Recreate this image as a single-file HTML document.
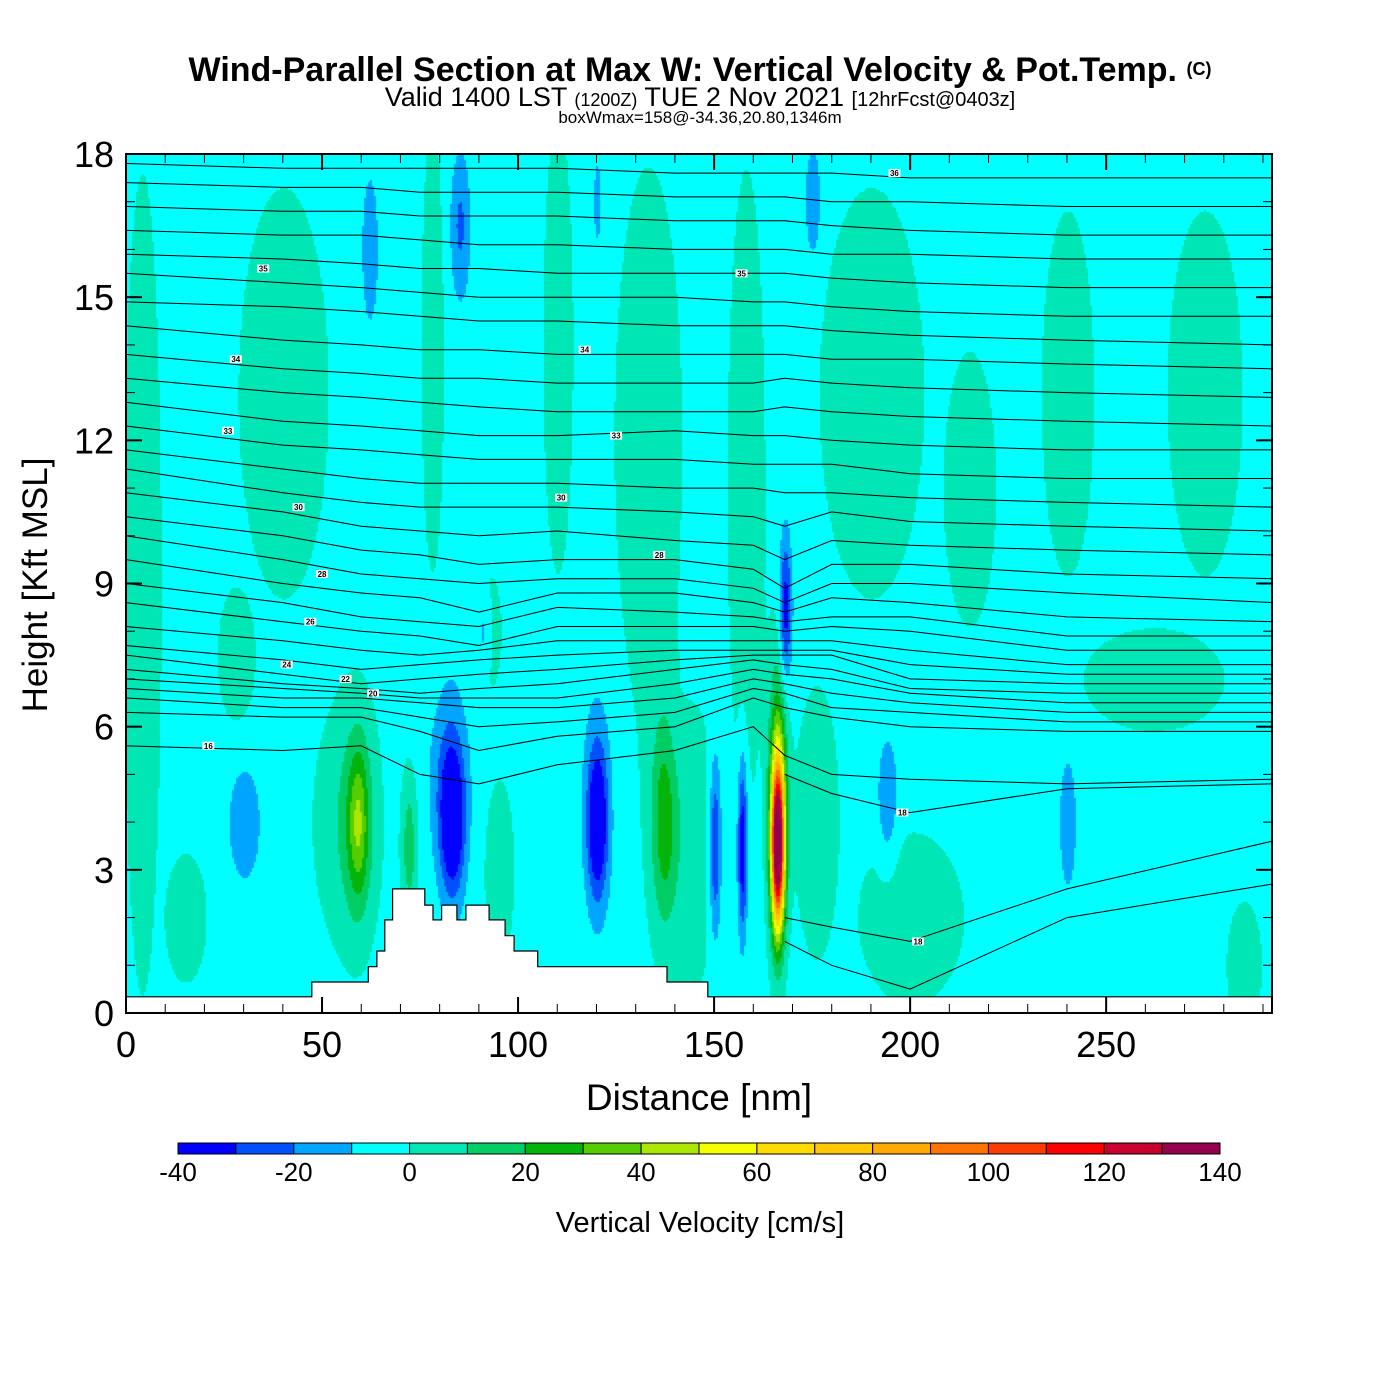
<!DOCTYPE html>
<html><head><meta charset="utf-8">
<style>
body{margin:0;background:#fff;width:1400px;height:1400px;overflow:hidden;font-family:"Liberation Sans",Arial,sans-serif}
#wrap{position:relative;width:1400px;height:1400px}
canvas{position:absolute;left:126px;top:154px}
svg{position:absolute;left:0;top:0}
</style></head>
<body>
<div id="wrap">
<canvas id="field" width="1146" height="859"></canvas>
<svg id="svg" width="1400" height="1400"></svg>
</div>
<script>
// ---- data ----
const xMax = 292.3, yMax = 18;
// broad weak-updraft regions (combined by max)
const bgX  = [4, 40, 28, 55, 78, 92, 95, 110, 133, 145, 158, 190, 215, 240, 275, 262, 176, 200, 285, 15];
const bgH  = [9, 13, 7.5, 4, 14, 8, 3, 14, 12, 3.5, 11, 13, 11, 13, 13, 7, 4, 2, 1, 2];
const bgSX = [5, 12, 5, 8, 3, 4, 4, 4, 9, 6, 5, 14, 7, 7, 10, 20, 6, 15, 5, 6];
const bgSY = [9, 4.5, 1.5, 2.5, 5, 1.5, 2, 5, 6, 3, 7, 4.5, 3, 4, 4, 1.2, 3, 2, 1.5, 1.5];
const bgV  = [10, 10, 10, 10, 10, 9, 10, 10, 10, 10, 10, 10, 10, 10, 10, 9, 10, 9, 9, 9];
// strong features (summed)
const featX  = [59, 59, 72, 83, 82, 120, 120, 137, 137, 150, 157, 166, 166, 168, 194, 240, 62, 85, 120, 175, 91, 30];
const featH  = [4, 4, 3.5, 4, 5, 4, 4.5, 4, 4, 3.5, 3.5, 3.5, 4.3, 8.5, 4.5, 4, 16, 16.5, 17, 17, 8, 4];
const featSX = [2.5, 5, 2, 3, 5, 2.5, 4, 3, 5, 1.5, 1.2, 1.6, 2.2, 1.5, 2.5, 2, 2, 2.5, 1, 2, 2, 4];
const featSY = [1.5, 2.5, 1.5, 1.5, 2, 1.5, 2.5, 2, 3, 1.8, 1.8, 1.6, 2.6, 1.5, 1.3, 1.3, 1.5, 1.5, 1, 1.2, 0.8, 1.2];
const featV  = [28, 12, 20, -40, -15, -38, -10, 22, 8, -30, -38, 125, 55, -32, -16, -16, -16, -18, -12, -16, -15, -15];
const baseV = -4;
const vLevels = [-40,-30,-20,-10,0,10,20,30,40,50,60,70,80,90,100,110,120,130,140];
const vColors = ["#0000ff","#0050ff","#00a5ff","#00ffff","#00e6b4","#00cd64","#05b40a","#55cd00","#aae600","#f5ff00","#ffdc00","#ffc800","#ffaa00","#ff7300","#ff3c00","#ff0000","#c8002d","#960050"];
const terrainX = [0,47.4,47.4,61.8,61.8,64,64,66,66,68,68,76.2,76.2,78.3,78.3,80.5,80.5,84.4,84.4,86.7,86.7,92.6,92.6,96.7,96.7,99,99,105,105,138,138,148.4,148.4,292.3];
const terrainH = [0.34,0.34,0.65,0.65,0.97,0.97,1.3,1.3,1.95,1.95,2.6,2.6,2.26,2.26,1.95,1.95,2.26,2.26,1.95,1.95,2.26,2.26,1.95,1.95,1.62,1.62,1.3,1.3,0.97,0.97,0.65,0.65,0.34,0.34];
const thetaX = [0,40,60,75,90,110,140,160,168,180,200,240,292.3];
const thetaLines = [
[17.8,17.7,17.7,17.7,17.7,17.7,17.6,17.6,17.6,17.6,17.5,17.5,17.5],
[17.4,17.3,17.3,17.2,17.2,17.2,17.1,17.1,17.1,17.0,17.0,16.9,16.9],
[16.9,16.8,16.8,16.7,16.7,16.7,16.6,16.6,16.6,16.5,16.4,16.3,16.3],
[16.4,16.3,16.3,16.2,16.1,16.1,16.0,16.0,16.0,15.9,15.9,15.8,15.8],
[15.9,15.8,15.7,15.6,15.6,15.5,15.5,15.5,15.5,15.4,15.3,15.2,15.2],
[15.5,15.3,15.2,15.1,15.0,15.0,15.0,14.9,14.9,14.8,14.7,14.6,14.6],
[14.9,14.8,14.7,14.6,14.5,14.5,14.4,14.4,14.4,14.3,14.2,14.1,14.0],
[14.4,14.1,14.0,13.9,13.9,13.8,13.8,13.8,13.8,13.7,13.7,13.6,13.5],
[13.8,13.5,13.4,13.3,13.3,13.2,13.2,13.2,13.3,13.2,13.1,13.0,12.9],
[13.3,13.0,12.9,12.8,12.7,12.6,12.6,12.6,12.7,12.6,12.5,12.4,12.3],
[12.8,12.4,12.3,12.2,12.1,12.1,12.2,12.1,12.1,12.0,11.9,11.8,11.8],
[12.3,11.9,11.8,11.7,11.6,11.6,11.6,11.5,11.5,11.5,11.3,11.2,11.2],
[11.8,11.4,11.2,11.1,11.1,11.1,11.0,11.0,10.9,10.9,10.8,10.7,10.6],
[11.4,10.9,10.7,10.6,10.6,10.6,10.5,10.4,10.2,10.5,10.3,10.2,10.1],
[10.9,10.5,10.2,10.1,10.0,10.1,9.9,9.8,9.5,9.9,9.8,9.7,9.6],
[10.4,10.0,9.7,9.6,9.4,9.5,9.5,9.3,8.9,9.4,9.4,9.2,9.1],
[10.0,9.5,9.2,9.1,9.0,9.1,9.1,8.9,8.6,9.0,9.0,8.8,8.6],
[9.5,9.0,8.8,8.7,8.4,8.8,8.8,8.6,8.4,8.7,8.6,8.3,8.2],
[9.0,8.6,8.3,8.2,8.1,8.5,8.4,8.3,8.2,8.3,8.3,7.9,7.9],
[8.6,8.2,8.0,7.9,7.7,8.1,8.1,8.1,8.0,8.1,8.0,7.6,7.6],
[8.1,7.8,7.6,7.5,7.6,7.8,7.8,7.8,7.8,7.8,7.6,7.3,7.3],
[7.7,7.4,7.2,7.3,7.4,7.5,7.6,7.6,7.6,7.6,7.3,7.1,7.1],
[7.5,7.1,6.9,7.0,7.1,7.2,7.4,7.5,7.5,7.5,7.0,6.9,6.9],
[7.2,6.9,6.8,6.7,6.8,6.9,7.2,7.4,7.3,7.2,6.8,6.7,6.7],
[7.0,6.8,6.7,6.6,6.6,6.6,6.9,7.2,7.1,7.0,6.7,6.5,6.5],
[6.8,6.6,6.6,6.5,6.4,6.4,6.6,7.0,6.9,6.7,6.5,6.3,6.3],
[6.6,6.4,6.4,6.2,6.0,6.1,6.3,6.8,6.7,6.4,6.3,6.1,6.1],
[6.3,6.2,6.2,5.9,5.5,5.8,6.0,6.6,6.4,6.2,6.0,5.9,5.9],
[5.6,5.5,5.6,5.0,4.8,5.2,5.5,6.0,5.4,5.0,4.9,4.8,4.9],
[null,null,null,null,null,null,null,null,5.0,4.6,4.2,4.7,4.8],
[null,null,null,null,null,null,null,null,2.0,1.8,1.5,2.6,3.6],
[null,null,null,null,null,null,null,null,1.5,1.0,0.5,2.0,2.7]
];
const labelText = ["36","35","35","34","34","33","33","30","30","28","28","26","24","22","20","16","18","18"];
const labelX    = [196,35,157,28,117,26,125,44,111,50,136,47,41,56,63,21,198,202];
const labelH    = [17.6,15.6,15.5,13.7,13.9,12.2,12.1,10.6,10.8,9.2,9.6,8.2,7.3,7.0,6.7,5.6,4.2,1.5];
const xTicks = [0,50,100,150,200,250];
const yTicks = [0,3,6,9,12,15,18];
const cbTicks = [-40,-20,0,20,40,60,80,100,120,140];

// ---- axes ----
const PL=126, PT=154, PW=1146, PH=859;
const sx = x => PL + x / xMax * PW;
const sy = h => PT + PH - h / yMax * PH;

// ---- field ----
const cv = document.getElementById('field'), ctx = cv.getContext('2d');
function val(x,h){
  let bg=0;
  for(let i=0;i<bgX.length;i++){const dx=(x-bgX[i])/bgSX[i],dy=(h-bgH[i])/bgSY[i];bg=Math.max(bg,bgV[i]*Math.exp(-dx*dx-dy*dy));}
  let v=baseV+bg;
  for(let i=0;i<featX.length;i++){const dx=(x-featX[i])/featSX[i],dy=(h-featH[i])/featSY[i];v+=featV[i]*Math.exp(-dx*dx-dy*dy);}
  return v;}
function col(v){let k=0;for(let i=0;i<vLevels.length-1;i++){if(v>=vLevels[i])k=i;}return vColors[k];}
const step=2;
for(let py=0;py<PH;py+=step){for(let px=0;px<PW;px+=step){
  const x=px/PW*xMax, h=(PH-py)/PH*yMax;
  ctx.fillStyle=col(val(x,h));ctx.fillRect(px,py,step,step);}}

// ---- svg ----
const NS="http://www.w3.org/2000/svg", svg=document.getElementById('svg');
function mk(t,a,parent){const e=document.createElementNS(NS,t);for(const k in a)e.setAttribute(k,a[k]);(parent||svg).appendChild(e);return e;}
function txt(s,a,parent){const e=mk('text',a,parent);e.textContent=s;return e;}

const gT=mk('g',{});


thetaLines.forEach((ln,i)=>{
  let d='';ln.forEach((h,j)=>{if(h===null)return;d+=(d?'L':'M')+sx(thetaX[j]).toFixed(1)+','+sy(h).toFixed(1);});
  const p=mk('path',{d:d,fill:'none',stroke:'#000','stroke-width':1},gT);
  
  
});
labelText.forEach((t,i)=>{
  const x=sx(labelX[i]),y=sy(labelH[i]);
  mk('rect',{x:x-6,y:y-4,width:12,height:8,fill:'#fff'},gT);
  const e=txt(t,{x:x,y:y+3,'font-size':8,'text-anchor':'middle','font-weight':'bold'},gT);
  
  
});
let td='M'+sx(terrainX[0])+','+sy(0);
terrainX.forEach((x,i)=>{td+='L'+sx(x).toFixed(1)+','+sy(terrainH[i]).toFixed(1);});
td+='L'+sx(xMax)+','+sy(0)+'Z';
const ter=mk('path',{d:td,fill:'#fff',stroke:'#000','stroke-width':1.2});


const fr=mk('rect',{x:PL,y:PT,width:PW,height:PH,fill:'none',stroke:'#000','stroke-width':2});


for(let x=0;x<=290;x+=10){const maj=x%50===0,L=maj?16:9;
  mk('line',{x1:sx(x),x2:sx(x),y1:PT+PH,y2:PT+PH-L,stroke:'#000','stroke-width':maj?2:1});
  mk('line',{x1:sx(x),x2:sx(x),y1:PT,y2:PT+L,stroke:'#000','stroke-width':maj?2:1});}
for(let h=0;h<=18;h+=1){const maj=h%3===0,L=maj?16:9;
  mk('line',{x1:PL,x2:PL+L,y1:sy(h),y2:sy(h),stroke:'#000','stroke-width':maj?2:1});
  mk('line',{x1:PL+PW,x2:PL+PW-L,y1:sy(h),y2:sy(h),stroke:'#000','stroke-width':maj?2:1});}
xTicks.forEach(x=>{const e=txt(String(x),{x:sx(x),y:1057,'font-size':36,'text-anchor':'middle'});
  
  });
yTicks.forEach(h=>{const e=txt(String(h),{x:114,y:sy(h)+13,'font-size':36,'text-anchor':'end'});
  
  });
const CBX=178,CBW=1042,CBY=1143,CBH=11,nb=vColors.length;
vColors.forEach((c,i)=>{const r=mk('rect',{x:CBX+i*CBW/nb,y:CBY,width:CBW/nb,height:CBH,fill:c,stroke:'#000','stroke-width':1});
  
  });
cbTicks.forEach(v=>{const e=txt(String(v),{x:CBX+(v-vLevels[0])/(vLevels[vLevels.length-1]-vLevels[0])*CBW,y:1181,'font-size':26,'text-anchor':'middle'});
  
  });
</script>
<svg width="1400" height="1400" style="position:absolute;left:0;top:0;pointer-events:none">
<text x="700" y="81" font-size="34" font-weight="bold" text-anchor="middle">Wind-Parallel Section at Max W: Vertical Velocity &amp; Pot.Temp. <tspan font-size="18" dy="-6">(C)</tspan></text>
<text x="700" y="106" font-size="27" text-anchor="middle">Valid 1400 LST <tspan font-size="18">(1200Z)</tspan> TUE 2 Nov 2021 <tspan font-size="20">[12hrFcst@0403z]</tspan></text>
<text x="700" y="123" font-size="17" text-anchor="middle">boxWmax=158@-34.36,20.80,1346m</text>
<text x="699" y="1110" font-size="37" text-anchor="middle">Distance [nm]</text>
<text x="47" y="585" font-size="35" text-anchor="middle" transform="rotate(-90 47 585)">Height [Kft MSL]</text>
<text x="700" y="1232" font-size="29" text-anchor="middle">Vertical Velocity [cm/s]</text>
</svg>
</body></html>
